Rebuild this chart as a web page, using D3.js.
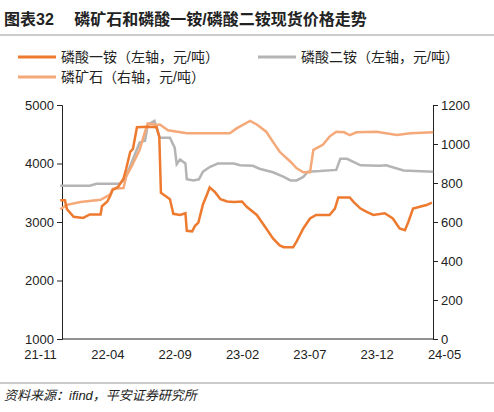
<!DOCTYPE html>
<html><head><meta charset="utf-8">
<script src="https://cdn.jsdelivr.net/npm/d3@7"></script>
<style>body{margin:0;background:#fff;font-family:"Liberation Sans","Noto Sans CJK SC",sans-serif}</style>
</head><body>
<script>
// months since 2021-11, value
var map = [[1.5,3370],[1.85,3370],[2.0,3220],[2.5,3090],[3.2,3070],[3.7,3130],[4.5,3130],[4.6,3270],[5.0,3350],[5.2,3440],[5.4,3550],[5.8,3600],[6.2,3740],[6.4,3910],[6.7,4200],[6.9,4250],[7.2,4620],[8.0,4630],[8.66,4620],[8.86,4450],[8.98,3500],[9.16,3470],[9.65,3390],[9.9,3140],[10.4,3120],[10.8,3150],[10.9,2850],[11.3,2840],[11.5,2930],[11.76,2990],[12.1,3300],[12.4,3470],[12.6,3590],[13.0,3510],[13.4,3390],[13.9,3350],[14.4,3340],[15.0,3350],[15.35,3260],[16.1,3120],[16.8,2890],[17.3,2720],[17.8,2600],[18.1,2570],[18.8,2570],[19.06,2670],[19.55,2890],[20.05,3060],[20.5,3120],[21.5,3120],[21.9,3230],[22.15,3420],[23.0,3420],[23.3,3340],[23.8,3230],[24.3,3170],[24.75,3120],[25.6,3150],[26.2,3060],[26.7,2890],[27.1,2860],[27.35,3000],[27.7,3230],[28.2,3260],[28.7,3290],[29.1,3330]]
var dap = [[1.5,3620],[3.7,3620],[4.2,3655],[5.9,3655],[6.3,3730],[6.7,3960],[7.05,4160],[7.4,4360],[7.8,4390],[8.0,4660],[8.5,4730],[8.7,4580],[8.9,4440],[9.65,4440],[10.0,4270],[10.15,3990],[10.4,4070],[10.8,4000],[10.9,3730],[11.4,3710],[11.8,3730],[12.1,3860],[12.6,3940],[13.2,4000],[14.4,4000],[14.85,3970],[15.8,3960],[16.3,3910],[17.3,3850],[18.1,3770],[18.6,3710],[19.06,3710],[19.55,3770],[19.9,3860],[20.8,3870],[22.0,3890],[22.3,4080],[22.8,4080],[23.8,3970],[25.25,3960],[25.7,3970],[27.0,3880],[29.2,3860]]
var rock = [[1.5,665],[2.0,688],[3.0,702],[4.5,714],[5.2,740],[5.4,770],[6.2,774],[6.4,833],[6.8,885],[7.4,970],[7.8,1063],[8.0,1106],[8.66,1097],[8.9,1100],[9.5,1070],[10.9,1055],[14.1,1055],[14.6,1080],[15.6,1118],[16.1,1100],[16.8,1063],[17.3,1011],[17.8,960],[18.6,909],[19.06,875],[19.55,855],[20.05,855],[20.3,970],[21.0,996],[21.5,1038],[22.0,1063],[22.6,1060],[23.0,1045],[23.5,1060],[25.0,1063],[26.5,1046],[27.5,1055],[29.2,1060]]
var xTicks = [0,5,10,15,20,25,30]
var xLabels = ['21-11','22-04','22-09','23-02','23-07','23-12','24-05']

var svg = d3.select('body').append('svg').attr('width',494).attr('height',412)
var L = 62, R = 433, T = 105, B = 339

svg.append('text').attr('x',4).attr('y',25).attr('font-size',16).attr('font-weight','bold').attr('fill','#222')
	.text('图表32　 磷矿石和磷酸一铵/磷酸二铵现货价格走势')
svg.append('line').attr('x1',0).attr('x2',494).attr('y1',35).attr('y2',35).attr('stroke','#999').attr('stroke-width',1)
svg.append('line').attr('x1',0).attr('x2',494).attr('y1',383).attr('y2',383).attr('stroke','#999').attr('stroke-width',1)
svg.append('text').attr('x',4).attr('y',400).attr('font-size',13).attr('font-style','italic').attr('fill','#222')
	.text('资料来源：ifind，平安证券研究所')

var x = d3.scaleLinear().domain([0,30]).range([40,444])
var yl = d3.scaleLinear().domain([1000,5000]).range([B,T])
var yr = d3.scaleLinear().domain([0,1200]).range([B,T])

var gl = svg.append('g').attr('transform','translate('+L+',0)').call(d3.axisLeft(yl).tickValues([1000,2000,3000,4000,5000]).tickSize(5).tickFormat(d3.format('d')))
var gr = svg.append('g').attr('transform','translate('+R+',0)').call(d3.axisRight(yr).tickValues([0,200,400,600,800,1000,1200]).tickSize(5).tickFormat(d3.format('d')))
var gb = svg.append('g').attr('transform','translate(0,'+B+')').call(d3.axisBottom(x).tickValues(xTicks).tickSize(0).tickFormat(function(d,i){return xLabels[i]}))
gb.select('.domain').attr('d','M'+L+',0H'+R)
;[gl,gr,gb].forEach(function(g){
	g.selectAll('text').attr('font-size',13).attr('fill','#222').attr('font-family','Liberation Sans')
	g.selectAll('line,path').attr('stroke','#222')
})
gl.selectAll('text').attr('x',-8)
gr.selectAll('text').attr('x',8)
gb.selectAll('text').attr('dy','1.3em')

var series = [
	{d: dap, y: yl, c: '#b4b4b4'},
	{d: rock, y: yr, c: '#f5a878'},
	{d: map, y: yl, c: '#ee7a30'}
]
series.forEach(function(s){
	svg.append('path').datum(s.d).attr('fill','none').attr('stroke',s.c).attr('stroke-width',2.5)
		.attr('d', d3.line().x(function(d){return x(d[0])}).y(function(d){return s.y(d[1])}))
})

var leg = [
	{t:'磷酸一铵（左轴，元/吨）', c:'#ee7a30', x:18, y:62},
	{t:'磷酸二铵（左轴，元/吨）', c:'#b4b4b4', x:258, y:62},
	{t:'磷矿石（右轴，元/吨）', c:'#f5a878', x:18, y:82}
]
leg.forEach(function(l){
	svg.append('line').attr('x1',l.x).attr('x2',l.x+38).attr('y1',l.y-5).attr('y2',l.y-5).attr('stroke',l.c).attr('stroke-width',3)
	svg.append('text').attr('x',l.x+43).attr('y',l.y).attr('font-size',14).attr('fill','#222').text(l.t)
})
</script>
</body></html>
